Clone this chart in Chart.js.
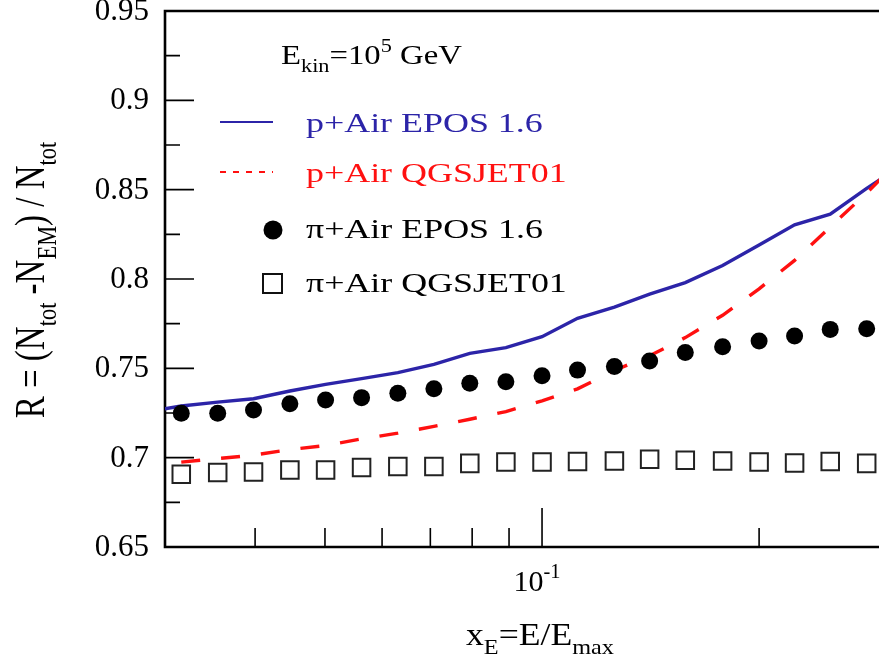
<!DOCTYPE html>
<html>
<head>
<meta charset="utf-8">
<script src="https://cdn.jsdelivr.net/npm/chart.js@4.4.1/dist/chart.umd.min.js"></script>
<style>
  body { margin: 0; background: #fff; overflow: hidden; }
</style>
</head>
<body>
<canvas id="chart" width="879" height="664"></canvas>
<script>
// x positions of the points (x_E)
const xValues = [0.0316, 0.0355, 0.0398, 0.0447, 0.0501, 0.0562, 0.0631, 0.0708, 0.0794, 0.0891,
                 0.1, 0.112, 0.126, 0.141, 0.158, 0.178, 0.2, 0.224, 0.251, 0.282];
// line x positions (lines run past the visible frame on both sides)
const lineX = [0.0282, 0.0316, 0.0355, 0.0398, 0.0447, 0.0501, 0.0562, 0.0631, 0.0708, 0.0794, 0.0891,
               0.1, 0.112, 0.126, 0.141, 0.158, 0.178, 0.2, 0.224, 0.251, 0.282, 0.316];

const pAirEpos = [0.7255, 0.7289, 0.7311, 0.733, 0.7373, 0.741, 0.7442, 0.7476, 0.7522, 0.7584, 0.7616,
                  0.7677, 0.778, 0.7843, 0.7915, 0.798, 0.8075, 0.819, 0.8303, 0.8363, 0.8507, 0.864];
const pAirQgs = [null, 0.6975, 0.6995, 0.7014, 0.7045, 0.7068, 0.7105, 0.7137, 0.7175, 0.7215, 0.7258,
                 0.7318, 0.7385, 0.7488, 0.757, 0.7672, 0.7797, 0.7945, 0.8104, 0.8291, 0.8482, 0.868];
const piAirEpos = [0.7248, 0.7248, 0.7267, 0.7302, 0.7323, 0.7336, 0.736, 0.7386, 0.7416, 0.7425,
                   0.7459, 0.749, 0.751, 0.7541, 0.7588, 0.7621, 0.7653, 0.7681, 0.7718, 0.7722];
const piAirQgs = [0.6907, 0.6917, 0.692, 0.6931, 0.6931, 0.6945, 0.695, 0.695, 0.6968, 0.6976,
                  0.6976, 0.6978, 0.6981, 0.6991, 0.6985, 0.6981, 0.6976, 0.697, 0.6978, 0.6968];

const yMajor = [0.65, 0.7, 0.75, 0.8, 0.85, 0.9, 0.95];
const yLabels = ['0.65', '0.7', '0.75', '0.8', '0.85', '0.9', '0.95'];
const yMinor = [0.675, 0.725, 0.775, 0.825, 0.875, 0.925];
const xMajor = [0.1];
const xMinor = [0.04, 0.05, 0.06, 0.07, 0.08, 0.09, 0.2];

const blue = '#2c24a8';
const red = '#ff1010';
const serif = '"Liberation Serif", "DejaVu Serif", serif';

function pairs(xs, ys) {
    return xs.map((x, i) => ({ x: x, y: ys[i] })).filter(p => p.y !== null);
}

// draw text made of pieces, some sub/superscripted
function richWidth(ctx, parts, size) {
    let w = 0;
    parts.forEach(p => {
        const s = p.s ? size * 0.68 : size;
        ctx.font = s + 'px ' + serif;
        w += ctx.measureText(p.t).width;
    });
    return w;
}

function drawRich(ctx, parts, x, y, size, color, align, sx, sy) {
    ctx.save();
    ctx.translate(x, y);
    ctx.scale(sx || 1, sy || 1);
    let cx = 0;
    if (align === 'center') cx = -richWidth(ctx, parts, size) / 2;
    if (align === 'right') cx = -richWidth(ctx, parts, size);
    ctx.fillStyle = color;
    ctx.textBaseline = 'alphabetic';
    ctx.textAlign = 'left';
    parts.forEach(p => {
        const s = p.s ? size * 0.68 : size;
        ctx.font = s + 'px ' + serif;
        let dy = 0;
        if (p.s === 'sub') dy = size * 0.28;
        if (p.s === 'sup') dy = -size * 0.42;
        ctx.fillText(p.t, cx, dy);
        cx += ctx.measureText(p.t).width;
    });
    ctx.restore();
}

const framePlugin = {
    id: 'frame',
    beforeDatasetsDraw(chart) {
        const ctx = chart.ctx;
        const a = chart.chartArea;
        const xs = chart.scales.x, ys = chart.scales.y;
        ctx.save();
        ctx.strokeStyle = '#000';
        ctx.lineWidth = 1.6;
        ctx.beginPath();
        yMajor.forEach(v => { const p = ys.getPixelForValue(v); ctx.moveTo(a.left, p); ctx.lineTo(a.left + 29, p); });
        yMinor.forEach(v => { const p = ys.getPixelForValue(v); ctx.moveTo(a.left, p); ctx.lineTo(a.left + 15, p); });
        xMajor.forEach(v => { const p = xs.getPixelForValue(v); ctx.moveTo(p, a.bottom); ctx.lineTo(p, a.bottom - 39); });
        xMinor.forEach(v => { const p = xs.getPixelForValue(v); ctx.moveTo(p, a.bottom); ctx.lineTo(p, a.bottom - 19); });
        ctx.stroke();
        ctx.lineWidth = 2.6;
        ctx.beginPath();
        ctx.moveTo(a.right + 2, a.top);
        ctx.lineTo(a.left, a.top);
        ctx.lineTo(a.left, a.bottom);
        ctx.lineTo(a.right + 2, a.bottom);
        ctx.stroke();
        ctx.restore();
    },
    afterDraw(chart) {
        const ctx = chart.ctx;
        const a = chart.chartArea;
        const xs = chart.scales.x, ys = chart.scales.y;

        // y tick labels
        ctx.save();
        ctx.font = '31px ' + serif;
        ctx.fillStyle = '#000';
        ctx.textAlign = 'right';
        ctx.textBaseline = 'middle';
        yMajor.forEach((v, i) => {
            ctx.fillText(yLabels[i], a.left - 16, ys.getPixelForValue(v) + 1);
        });
        ctx.restore();

        // x tick label 10^-1
        xMajor.forEach(v => {
            drawRich(ctx, [{ t: '10' }, { t: '-1', s: 'sup' }], xs.getPixelForValue(v) - 5, 591, 30, '#000', 'center');
        });

        // axis titles
        drawRich(ctx, [{ t: 'x' }, { t: 'E', s: 'sub' }, { t: '=E/E' }, { t: 'max', s: 'sub' }],
                 540, 645, 31, '#000', 'center', 1.15, 1);
        ctx.save();
        ctx.translate(44, 280);
        ctx.rotate(-Math.PI / 2);
        drawRich(ctx, [{ t: 'R = (N' }, { t: 'tot', s: 'sub' }, { t: ' -N' }, { t: 'EM', s: 'sub' },
                       { t: ') / N' }, { t: 'tot', s: 'sub' }], 0, 0, 33, '#000', 'center', 1, 1.25);
        ctx.restore();

        // energy annotation
        drawRich(ctx, [{ t: 'E' }, { t: 'kin', s: 'sub' }, { t: '=10' }, { t: '5', s: 'sup' }, { t: ' GeV' }],
                 281, 64, 28, '#000', 'left', 1.17, 1);

        // legend
        const ds = chart.data.datasets;
        const rows = [132, 182, 238, 292];
        const textColors = [blue, red, '#000', '#000'];
        ds.forEach((d, i) => {
            const cy = rows[i] - 10;
            ctx.save();
            if (i === 0 || i === 1) {
                ctx.strokeStyle = d.borderColor;
                ctx.lineWidth = 2.2;
                ctx.setLineDash(i === 1 ? [6, 7] : []);
                ctx.beginPath();
                ctx.moveTo(220, cy);
                ctx.lineTo(273, cy);
                ctx.stroke();
            } else if (i === 2) {
                ctx.fillStyle = '#000';
                ctx.beginPath();
                ctx.arc(273, cy + 2, 9.5, 0, Math.PI * 2);
                ctx.fill();
            } else {
                ctx.strokeStyle = '#111';
                ctx.lineWidth = 2;
                ctx.strokeRect(263, cy - 8, 19, 19);
            }
            ctx.restore();
            drawRich(ctx, [{ t: d.label }], 306, rows[i], 27, textColors[i], 'left', 1.33, 1);
        });
    }
};

new Chart(document.getElementById('chart').getContext('2d'), {
    type: 'scatter',
    data: {
        datasets: [{
            label: 'p+Air EPOS 1.6',
            data: pairs(lineX, pAirEpos),
            showLine: true,
            borderColor: blue,
            borderWidth: 3.4,
            pointRadius: 0,
            order: 3
        }, {
            label: 'p+Air QGSJET01',
            data: pairs(lineX, pAirQgs),
            showLine: true,
            borderColor: red,
            borderWidth: 3.4,
            borderDash: [19, 21],
            pointRadius: 0,
            order: 2
        }, {
            label: 'π+Air EPOS 1.6',
            data: pairs(xValues, piAirEpos),
            showLine: false,
            pointStyle: 'circle',
            pointRadius: 8.5,
            backgroundColor: '#000',
            borderColor: '#000',
            borderWidth: 0,
            order: 1
        }, {
            label: 'π+Air QGSJET01',
            data: pairs(xValues, piAirQgs),
            showLine: false,
            pointStyle: 'rect',
            pointRadius: 12.4,
            backgroundColor: 'rgba(0,0,0,0)',
            borderColor: '#222',
            borderWidth: 2,
            order: 0
        }]
    },
    options: {
        responsive: false,
        animation: false,
        layout: { autoPadding: false, padding: { left: 165, top: 11, right: 0, bottom: 117 } },
        plugins: { legend: { display: false }, tooltip: { enabled: false } },
        scales: {
            x: { type: 'logarithmic', min: 0.03, max: 0.2933, display: false },
            y: { type: 'linear', min: 0.65, max: 0.95, display: false }
        }
    },
    plugins: [framePlugin]
});
</script>
</body>
</html>
